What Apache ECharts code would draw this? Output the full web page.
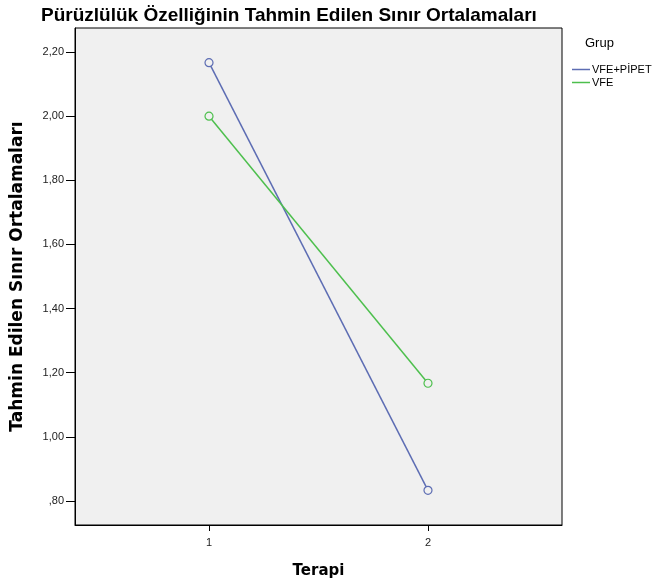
<!DOCTYPE html>
<html><head><meta charset="utf-8">
<script src="https://cdn.jsdelivr.net/npm/echarts@6/dist/echarts.min.js"></script>
<style>html,body{margin:0;padding:0;background:#fff}#c{width:654px;height:585px}</style>
</head><body><div id="c"></div>
<script>
const categories = [1, 2];
const seriesNames = ['VFE+PİPET', 'VFE'];
const vfePipet = [2.167, 0.833];
const vfe = [2.000, 1.167];
const yTicks = [0.8, 1.0, 1.2, 1.4, 1.6, 1.8, 2.0, 2.2];
const colors = ['#5D6DB3', '#4DBF4D'];

const fmtY = v => { let s = v.toFixed(2).replace('.', ','); if (s.startsWith('0')) s = s.slice(1); return s; };
const chart = echarts.init(document.getElementById('c'));
const font = '"Liberation Sans", Arial, sans-serif';
const boldFont = '"DejaVu Sans", sans-serif';
chart.setOption({
  animation: false,
  backgroundColor: '#fff',
  textStyle: { fontFamily: font },
  title: { text: 'Pürüzlülük Özelliğinin Tahmin Edilen Sınır Ortalamaları', left: 36, top: 1,
    textStyle: { fontFamily: font, fontSize: 19, fontWeight: 'bold', color: '#000' } },
  graphic: [{ type: 'text', left: 585, top: 37, style: { text: 'Grup', font: '13px ' + font, fill: '#000' } }],
  legend: { orient: 'vertical', left: 567, top: 59, itemGap: 2, itemWidth: 18, itemHeight: 1.5,
    textStyle: { fontFamily: font, fontSize: 11, color: '#000', padding: [0,0,0,-3] },
    data: seriesNames.map((n, i) => ({ name: n, icon: 'rect', itemStyle: { color: colors[i], borderWidth: 0 } })) },
  grid: { left: 75, right: 92, top: 28, bottom: 60, show: true, backgroundColor: '#F0F0F0', borderColor: '#000', borderWidth: 1 },
  xAxis: { type: 'value', min: 0.388, max: 2.612, name: 'Terapi', nameLocation: 'middle', nameGap: 39,
    nameTextStyle: { fontFamily: boldFont, fontSize: 15, fontWeight: 'bold', color: '#000' },
    axisLine: { lineStyle: { color: '#000', width: 1 } },
    axisTick: { show: true, length: 6, customValues: categories, lineStyle: { color: '#000' } },
    axisLabel: { customValues: categories, fontSize: 11, color: '#222', margin: 12, formatter: v => String(v) },
    splitLine: { show: false } },
  yAxis: { type: 'value', min: 0.725, max: 2.275, name: 'Tahmin Edilen Sınır Ortalamaları', nameLocation: 'middle', nameGap: 49,
    nameTextStyle: { fontFamily: boldFont, fontSize: 17, fontWeight: 'bold', color: '#000' },
    axisLine: { show: true, lineStyle: { color: '#000', width: 1 } },
    axisTick: { show: true, length: 9, customValues: yTicks, lineStyle: { color: '#000' } },
    axisLabel: { customValues: yTicks, fontSize: 11, color: '#222', margin: 11, formatter: fmtY },
    splitLine: { show: false } },
  series: [
    { name: seriesNames[0], type: 'line', data: categories.map((c, i) => [c, vfePipet[i]]), color: colors[0],
      symbol: 'circle', symbolSize: 8, itemStyle: { color: '#F0F0F0', borderColor: colors[0], borderWidth: 1.2 },
      lineStyle: { width: 1.5, color: colors[0] } },
    { name: seriesNames[1], type: 'line', data: categories.map((c, i) => [c, vfe[i]]), color: colors[1],
      symbol: 'circle', symbolSize: 8, itemStyle: { color: '#F0F0F0', borderColor: colors[1], borderWidth: 1.2 },
      lineStyle: { width: 1.5, color: colors[1] } }
  ]
});
</script></body></html>
